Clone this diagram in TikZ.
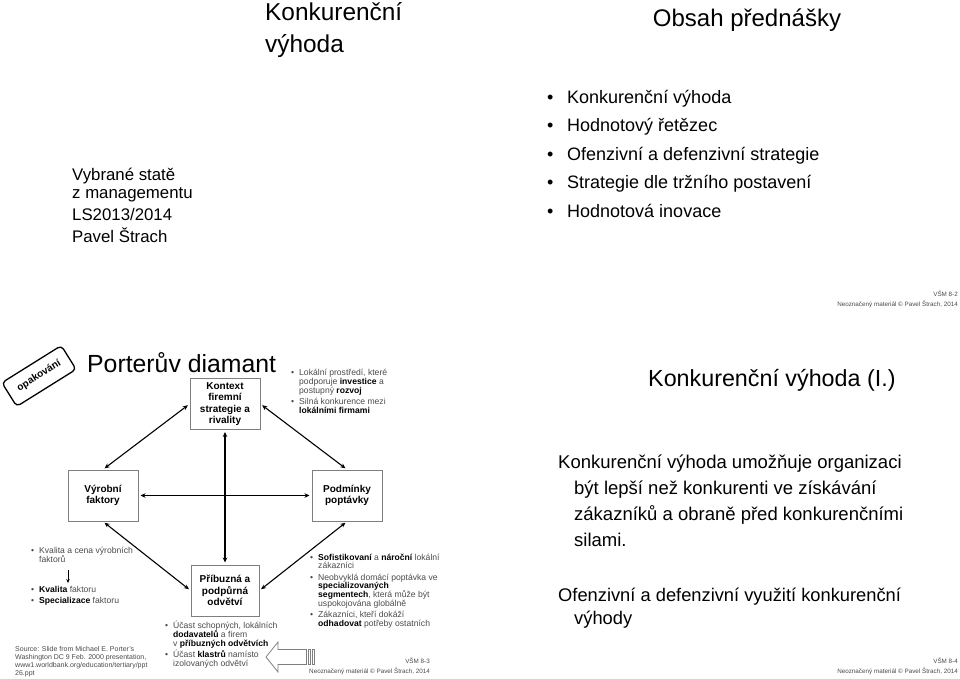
\documentclass[tikz,border=0pt]{standalone}
\usepackage{fontspec}
\setmainfont{Liberation Sans}
\usetikzlibrary{arrows.meta, positioning}

\definecolor{boxgray}{HTML}{7F7F7F}
\definecolor{txtgray}{HTML}{4A4A4A}

% bullet and continuation indent for the small notes
\newcommand{\bi}{\makebox[8pt][l]{\textbullet}}
\newcommand{\ci}{\hspace*{8pt}}
\newcommand{\bk}[1]{\textbf{\color{black}#1}}
\newcommand{\fixskip}{\setlength{\lineskiplimit}{-20pt}}

\begin{document}
\begin{tikzpicture}[x=1pt, y=-1pt,
    every node/.style={inner sep=0pt},
    % multi-line nodes: the base anchor sits on the last line
    slidetitle/.style={font=\fontsize{24.4}{32}\selectfont\fixskip, anchor=base west, align=left},
    bigtext/.style={font=\fontsize{18.5}{26}\selectfont\fixskip, anchor=base west, align=left},
    dbox/.style={draw=boxgray, line width=1pt, minimum width=70pt, minimum height=51pt, align=center, font=\fontsize{10}{11.5}\selectfont\bfseries\fixskip},
    dual/.style={{Stealth[length=5pt,width=4.5pt]}-{Stealth[length=5pt,width=4.5pt]}, line width=1.1pt, shorten <=2pt, shorten >=2pt},
    note/.style={font=\fontsize{8.6}{9}\selectfont\fixskip, text=txtgray, anchor=base west, align=left},
    foot/.style={font=\fontsize{6.3}{10}\selectfont\fixskip, text=txtgray, anchor=base east, align=right}
]
\useasboundingbox (0,0) rectangle (960,678);

% --- Slide 1 ---
\node[slidetitle] (title1) at (265,52) {Konkurenční\\výhoda};
\node[font=\fontsize{16.8}{18}\selectfont\fixskip, anchor=base west, align=left] (sub1) at (72,242)
    {Vybrané statě\\z managementu\\[4pt]LS2013/2014\\[4pt]Pavel Štrach};

% --- Slide 2 ---
\node[font=\fontsize{24}{32}\selectfont, anchor=base] (title2) at (747,26) {Obsah přednášky};
\node[font=\fontsize{18}{28.6}\selectfont\fixskip, anchor=base west, align=left] (toc) at (547,217.4)
    {\makebox[20pt][l]{\textbullet}Konkurenční výhoda\\
     \makebox[20pt][l]{\textbullet}Hodnotový řetězec\\
     \makebox[20pt][l]{\textbullet}Ofenzivní a defenzivní strategie\\
     \makebox[20pt][l]{\textbullet}Strategie dle tržního postavení\\
     \makebox[20pt][l]{\textbullet}Hodnotová inovace};
\node[foot] (foot2) at (958,306) {VŠM 8-2\\Neoznačený materiál © Pavel Štrach, 2014};

% --- Slide 3: Porter ---
\node[draw, line width=1.3pt, rounded corners=4pt, rotate=32, minimum width=70pt, minimum height=28pt,
      font=\fontsize{10}{11}\selectfont\bfseries] (opak) at (39,376) {opakování};
\node[slidetitle, font=\fontsize{24.8}{32}\selectfont] (title3) at (87,372) {Porterův diamant};

\node[dbox] (kontext) at (225,404) {Kontext\\firemní\\strategie a\\rivality};
\node[dbox] (vyrobni) at (103,495.5) {Výrobní\\faktory};
\node[dbox] (poptavka) at (347,495.5) {Podmínky\\poptávky};
\node[dbox, minimum width=68pt] (pribuzna) at (225,590.5) {Příbuzná a\\podpůrná\\odvětví};

\draw[dual] (vyrobni.north) -- (kontext.west);
\draw[dual] (kontext.east) -- (poptavka.north);
\draw[dual] (vyrobni.east) -- (poptavka.west);
\draw[dual] (kontext.south) -- (pribuzna.north);
\draw[dual] (vyrobni.south) -- (pribuzna.west);
\draw[dual] (poptavka.south) -- (pribuzna.east);

\node[note] (rivalnote) at (291,413)
    {\bi Lokální prostředí, které\\\ci podporuje \bk{investice} a\\\ci postupný \bk{rozvoj}\\[1.8pt]
     \bi Silná konkurence mezi\\\ci \bk{lokálními firmami}};
\node[note] (factnote) at (31,562) {\bi Kvalita a cena výrobních\\\ci faktorů};
\coordinate (fa) at (68,570);
\coordinate (fb) at (68,583);
\draw[-{Stealth[length=4pt,width=3.5pt]}, line width=0.8pt] (fa) -- (fb);
\node[note] (factnote2) at (31,603) {\bi\bk{Kvalita} faktoru\\[2pt]\bi\bk{Specializace} faktoru};
\node[note, font=\fontsize{8.6}{8.8}\selectfont\fixskip] (demandnote) at (310,626.6)
    {\bi\bk{Sofistikovaní} a \bk{nároční} lokální\\\ci zákazníci\\[2.5pt]
     \bi Neobvyklá domácí poptávka ve\\\ci\bk{specializovaných}\\\ci\bk{segmentech}, která může být\\\ci uspokojována globálně\\[2.5pt]
     \bi Zákazníci, kteří dokáží\\\ci\bk{odhadovat} potřeby ostatních};
\node[note] (clusternote) at (165,666)
    {\bi Účast schopných, lokálních\\\ci\bk{dodavatelů} a firem\\\ci v \bk{příbuzných odvětvích}\\[1.5pt]
     \bi Účast \bk{klastrů} namísto\\\ci izolovaných odvětví};
\node[note, font=\fontsize{7}{8}\selectfont\fixskip] (source) at (15,675)
    {Source: Slide from Michael E. Porter's\\Washington DC 9 Feb. 2000 presentation,\\www1.worldbank.org/education/tertiary/ppt\\26.ppt};

% hollow striped arrow
\draw[draw=boxgray, fill=white, line width=0.8pt] (266,657) -- (278,642) -- (278,649.5) -- (306.5,649.5)
    -- (306.5,664.5) -- (278,664.5) -- (278,672) -- cycle;
\draw[draw=boxgray, line width=0.8pt] (308.5,649.5) rectangle (310.5,664.5);
\draw[draw=boxgray, line width=0.8pt] (312.5,649.5) rectangle (314.5,664.5);

\node[foot] (foot3) at (430,673) {VŠM 8-3\\Neoznačený materiál © Pavel Štrach, 2014};

% --- Slide 4 ---
\node[slidetitle, font=\fontsize{23.3}{32}\selectfont] (title4) at (648,386) {Konkurenční výhoda (I.)};
\node[bigtext] (def) at (558,546)
    {Konkurenční výhoda umožňuje organizaci\\\hspace*{16pt}být lepší než konkurenti ve získávání\\
     \hspace*{16pt}zákazníků a obraně před konkurenčními\\\hspace*{16pt}silami.};
\node[bigtext, font=\fontsize{18.3}{23.5}\selectfont\fixskip] (use) at (558,624.5)
    {Ofenzivní a defenzivní využití konkurenční\\\hspace*{16pt}výhody};
\node[foot] (foot4) at (958,673) {VŠM 8-4\\Neoznačený materiál © Pavel Štrach, 2014};

\end{tikzpicture}
\end{document}
